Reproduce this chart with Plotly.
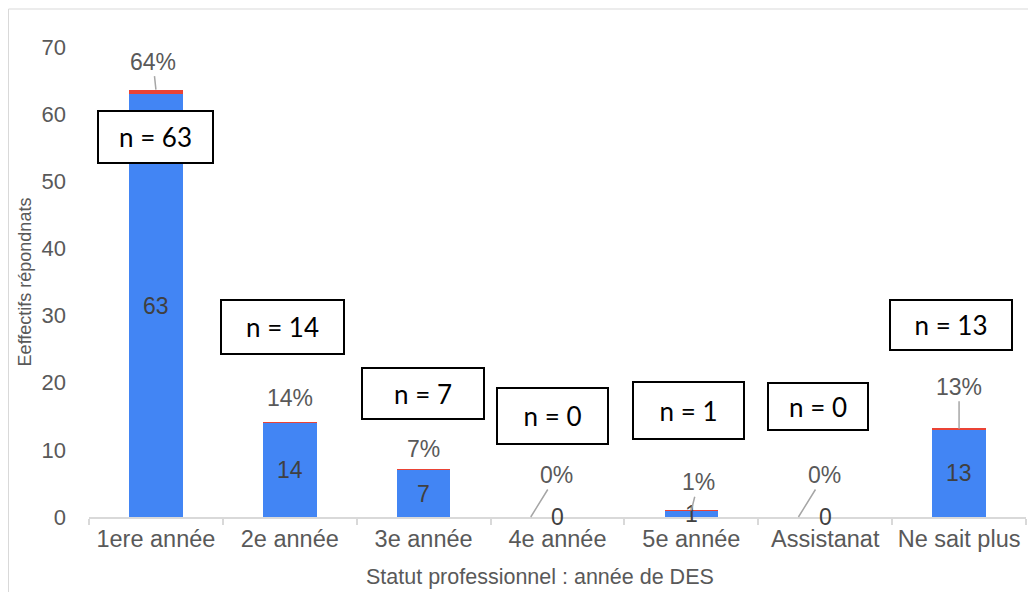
import plotly.graph_objects as go

# ---- data ----
categories = ["1ere année", "2e année", "3e année", "4e année", "5e année", "Assistanat", "Ne sait plus"]
counts = [63, 14, 7, 0, 1, 0, 13]
shares = [0.64, 0.14, 0.07, 0.00, 0.01, 0.00, 0.13]
n_labels = ["n = 63", "n = 14", "n = 7", "n = 0", "n = 1", "n = 0", "n = 13"]
y_ticks = [0, 10, 20, 30, 40, 50, 60, 70]
x_title = "Statut professionnel : année de DES"
y_title = "Eeffectifs répondnats"

# ---- layout helpers (positions / styles, not data) ----
# n-box: (y position in axis units, x pixel shift, width px, height px)
n_box_pos = [(56.6, 0, 113, 50), (28.3, -7, 121, 52), (18.4, -1, 120, 49),
             (15.0, -5, 109, 54), (15.9, -3, 109, 55), (16.5, -7, 98, 45), (28.6, -8, 120, 48)]
# percent label: (x offset in categories for leader tip, ax px, ay px, show leader)
pct_pos = [(0, -3, -28, True), (0, 0, -24, False), (0, 0, -21, False),
           (-0.2, 26, -42, True), (0, 7, -28, True), (-0.2, 26, -42, True), (0, 0, -42, True)]

BLUE = "#4285F4"
RED = "#EA4335"
GRAY = "#595959"
FONT = "Liberation Sans, Arial, sans-serif"

W, H = 1028, 584
ML, MR, MT, MB = 81, 10, 39, 75
PW, PH = W - ML - MR, H - MT - MB

fig = go.Figure()
fig.add_trace(go.Bar(x=categories, y=counts, marker=dict(color=BLUE, line=dict(width=0)),
                     name="Effectifs", hoverinfo="x+y"))
fig.add_trace(go.Bar(x=categories, y=shares, marker=dict(color=RED, line=dict(width=0)),
                     name="Pourcentage", hoverinfo="x+y"))

annotations = []
for i, (cat, v, s) in enumerate(zip(categories, counts, shares)):
    # value label in the middle of the blue bar
    annotations.append(dict(x=cat, y=v / 2, xref="x", yref="y", text=str(v), showarrow=False,
                            font=dict(family=FONT, size=23, color="#404040")))
    # percent label with leader line
    dx, ax, ay, lead = pct_pos[i]
    pct_text = f"{round(s * 100):d}%"
    if lead:
        annotations.append(dict(x=i + dx, y=v + s, xref="x", yref="y", text=pct_text,
                                showarrow=True, arrowhead=0, arrowwidth=1.5, arrowcolor="#a6a6a6",
                                ax=ax, ay=ay, axref="pixel", ayref="pixel", standoff=0,
                                font=dict(family=FONT, size=23, color=GRAY)))
    else:
        annotations.append(dict(x=i + dx, y=v + s, xref="x", yref="y", text=pct_text,
                                showarrow=False, xshift=ax, yshift=-ay,
                                font=dict(family=FONT, size=23, color=GRAY)))
    # n = X box
    by, bx, bw, bh = n_box_pos[i]
    annotations.append(dict(x=cat, y=by, xref="x", yref="y", text=n_labels[i], showarrow=False,
                            xshift=bx, width=bw, height=bh, borderpad=0, bgcolor="white",
                            bordercolor="black", borderwidth=2, valign="middle",
                            font=dict(family="Lato, Liberation Sans, sans-serif", size=26, color="black")))

# x-axis title (offset left of the plot centre, as in the reference)
annotations.append(dict(x=(532 - ML) / PW, y=-(569 - (MT + PH)) / PH, xref="paper", yref="paper",
                        text=x_title, showarrow=False, xanchor="center", yanchor="middle",
                        font=dict(family=FONT, size=21.5, color=GRAY)))

fig.update_layout(
    width=W, height=H,
    margin=dict(l=ML, r=MR, t=MT, b=MB),
    paper_bgcolor="white", plot_bgcolor="white",
    barmode="stack", bargap=0.6,
    showlegend=False,
    font=dict(family=FONT, color=GRAY),
    annotations=annotations,
    shapes=[dict(type="rect", xref="paper", yref="paper",
                 x0=(0.5 - ML) / PW, x1=(W + 5 - ML) / PW,
                 y0=-(MB + 5) / PH, y1=(PH + MT - 1) / PH,
                 line=dict(color="#d9d9d9", width=1), fillcolor="rgba(0,0,0,0)", layer="below")],
)
fig.update_xaxes(
    type="category", showgrid=False, showline=True, linecolor="#d9d9d9", linewidth=1.5,
    ticks="outside", tickson="boundaries", ticklen=6, tickcolor="#d9d9d9", tickwidth=1.5,
    tickfont=dict(family=FONT, size=23.5, color=GRAY),
)
fig.update_yaxes(
    range=[0, 70], tickvals=y_ticks, showgrid=False, zeroline=False, showline=False,
    ticks="", tickfont=dict(family=FONT, size=22, color=GRAY), ticklabelstandoff=22,
    title=dict(text=y_title, standoff=5,
               font=dict(family=FONT, size=18, color=GRAY)),
)

fig.write_html("out.html")
